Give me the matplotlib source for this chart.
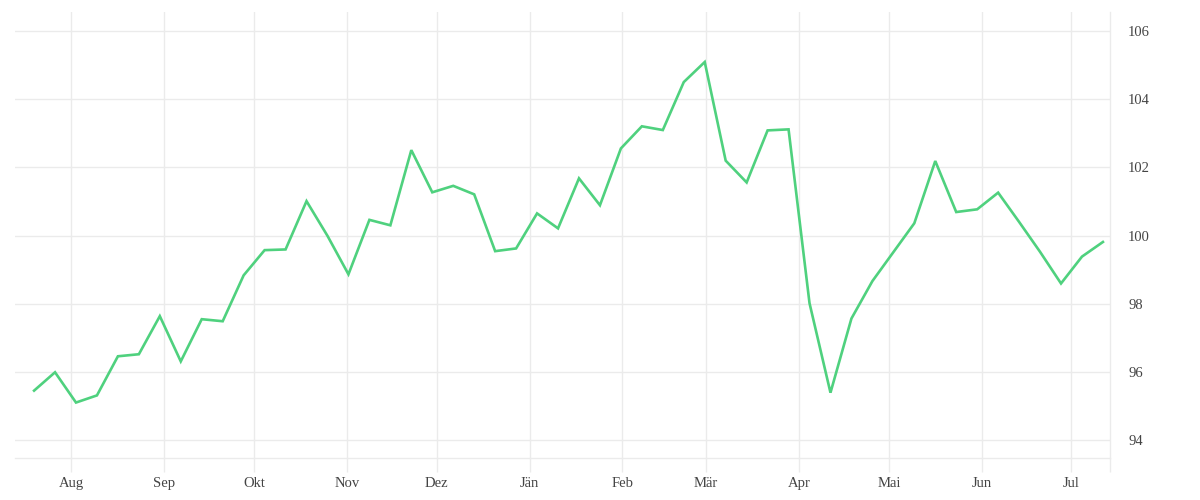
import numpy as np
import pandas as pd
import matplotlib
matplotlib.use("Agg")
import matplotlib.pyplot as plt
import matplotlib.dates as mdates

# wöchentliche Werte, Juli 2024 - Juli 2025
start_date = "2024-07-19 12:00"
values = [95.44, 95.98, 95.09, 95.30, 96.45, 96.51, 97.63, 96.30, 97.54, 97.48,
          98.83, 99.57, 99.59, 101.01, 99.99, 98.86, 100.46, 100.30, 102.51, 101.27,
          101.46, 101.21, 99.54, 99.62, 100.65, 100.21, 101.68, 100.89, 102.56, 103.21,
          103.10, 104.51, 105.10, 102.20, 101.56, 103.09, 103.12, 98.01, 95.38, 97.56,
          98.66, 99.51, 100.36, 102.19, 100.69, 100.77, 101.26, 100.40, 99.52, 98.59,
          99.38, 99.81]
dates = pd.date_range(start_date, periods=len(values), freq="7D")

month_ticks = pd.date_range("2024-08-01", "2025-07-01", freq="MS")
month_labels = ["Aug", "Sep", "Okt", "Nov", "Dez", "Jän", "Feb", "Mär",
                "Apr", "Mai", "Jun", "Jul"]
y_ticks = [94, 96, 98, 100, 102, 104, 106]

grid_col = "#ebebeb"
text_col = "#444444"

plt.rcParams["font.family"] = ["Liberation Serif", "DejaVu Serif"]

fig = plt.figure(figsize=(12, 5), dpi=100)
ax = fig.add_axes([15 / 1200, 42 / 500, 1095 / 1200, 446 / 500])

ax.plot(dates, values, color="#4fd17e", lw=1.9, solid_joinstyle="miter", zorder=3)

x0 = pd.Timestamp("2024-08-01") - pd.Timedelta(days=18.87)
x1 = pd.Timestamp("2025-07-01") + pd.Timedelta(days=12.86)
ax.set_xlim(x0, x1)
ax.set_ylim(93.46, 106.57)

ax.set_xticks(month_ticks)
ax.set_xticklabels(month_labels)
# rechte Kante bekommt auch einen kleinen Strich
ax.set_xticks([x1], minor=True)
ax.tick_params(axis="x", which="both", length=10, width=1, color=grid_col,
               labelsize=10.5, labelcolor=text_col, pad=4)

ax.yaxis.tick_right()
ax.set_yticks(y_ticks)
ax.tick_params(axis="y", length=0, labelsize=10.5, labelcolor=text_col, pad=13)

ax.grid(True, which="major", color=grid_col, lw=1)
ax.set_axisbelow(True)

for s in ["top", "left"]:
    ax.spines[s].set_visible(False)
for s in ["bottom", "right"]:
    ax.spines[s].set_color(grid_col)
    ax.spines[s].set_linewidth(1)

fig.savefig("out.png", dpi=100)
